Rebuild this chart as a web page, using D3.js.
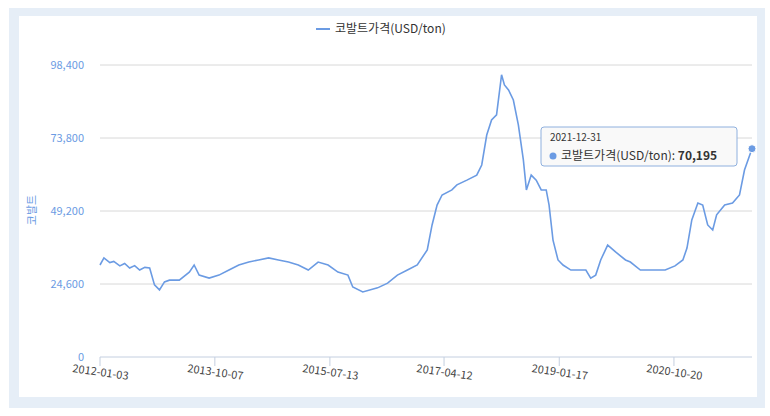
<!DOCTYPE html><html><head><meta charset="utf-8">
<script src="https://cdn.jsdelivr.net/npm/d3@7"></script>
<style>body{margin:0;background:#fff;font-family:"Noto Sans CJK KR","Noto Sans",sans-serif}</style></head><body>
<svg id="c" width="770" height="416"></svg>
<script>
const dates=["2012-01-03","2012-01-25","2012-02-27","2012-03-20","2012-04-23","2012-05-20","2012-06-17","2012-07-15","2012-08-12","2012-09-10","2012-10-07","2012-11-03","2012-12-01","2012-12-29","2013-01-26","2013-03-22","2013-05-17","2013-06-13","2013-07-11","2013-09-05","2013-10-30","2013-12-25","2014-02-18","2014-04-15","2014-06-09","2014-08-04","2014-09-28","2014-11-23","2015-01-17","2015-03-14","2015-05-08","2015-07-03","2015-08-27","2015-10-22","2015-11-18","2016-01-13","2016-04-05","2016-05-31","2016-07-25","2016-09-19","2016-11-13","2017-01-08","2017-02-04","2017-03-04","2017-04-01","2017-05-26","2017-06-23","2017-08-18","2017-10-12","2017-11-09","2017-12-07","2018-01-03","2018-01-31","2018-02-28","2018-03-16","2018-04-08","2018-05-05","2018-06-02","2018-06-30","2018-07-17","2018-08-13","2018-09-10","2018-10-08","2018-11-05","2018-11-21","2018-12-13","2019-01-10","2019-02-07","2019-03-23","2019-05-18","2019-06-15","2019-07-12","2019-08-09","2019-09-06","2019-10-15","2019-11-28","2020-01-23","2020-02-19","2020-04-15","2020-07-07","2020-09-01","2020-10-26","2020-12-09","2021-01-01","2021-01-28","2021-03-03","2021-03-30","2021-04-27","2021-05-25","2021-06-16","2021-07-31","2021-09-13","2021-10-22","2021-11-19","2021-12-31"];
const prices=[31000,33400,31800,32200,30700,31500,30000,30800,29300,30200,30000,24300,22600,25300,25900,25900,28600,31000,27600,26600,27600,29300,31000,32000,32700,33400,32700,32000,31000,29300,32000,31000,28600,27600,23600,21900,23300,24900,27600,29300,31000,36100,44500,51200,54600,56300,58000,59600,61300,64700,74800,79900,81600,95100,91700,90000,86600,78200,66400,56300,61300,59600,56300,56300,51200,39400,32700,31000,29300,29300,29300,26600,27600,32700,37700,35400,32700,32000,29300,29300,29300,30700,32700,36700,46200,51900,51200,44500,42800,47900,51200,51900,54600,63000,70195];
const yTicks=[0,24600,49200,73800,98400];
const xTickLabels=["2012-01-03","2013-10-07","2015-07-13","2017-04-12","2019-01-17","2020-10-20"];
const seriesName="코발트가격(USD/ton)";
const yTitle="코발트";

const svg=d3.select("#c");
svg.append("rect").attr("x",9).attr("y",8).attr("width",756).attr("height",400).attr("fill","#e6eef7");
svg.append("rect").attr("x",19).attr("y",16).attr("width",738).attr("height",381).attr("fill","#fff");
const p=d3.timeParse("%Y-%m-%d");
const data=dates.map((d,i)=>({d:p(d),v:prices[i]}));
const x=d3.scaleTime().domain([p(dates[0]),p(dates[dates.length-1])]).range([100,752]);
const y=d3.scaleLinear().domain([0,98400]).range([357,65]);
const g=svg.append("g");
yTicks.forEach(t=>{
 if(t>0)g.append("line").attr("x1",100).attr("x2",752).attr("y1",y(t)).attr("y2",y(t)).attr("stroke","#d8d8d8");
 g.append("text").attr("x",84).attr("y",y(t)+4).attr("text-anchor","end").attr("fill","#6b9be3").attr("font-size",11).text(d3.format(",")(t));
});
g.append("line").attr("x1",100).attr("x2",752).attr("y1",357).attr("y2",357).attr("stroke","#c4cfe0");
xTickLabels.forEach(s=>{
 const xx=x(p(s));
 g.append("line").attr("x1",xx).attr("x2",xx).attr("y1",357).attr("y2",366).attr("stroke","#c4cfe0");
 g.append("text").attr("transform",`translate(${xx},376) rotate(8)`).attr("text-anchor","middle").attr("fill","#444").attr("font-size",11).text(s);
});
g.append("text").attr("transform","translate(36,210) rotate(-90)").attr("text-anchor","middle").attr("fill","#6b9be3").attr("font-size",11).text(yTitle);
g.append("path").datum(data).attr("fill","none").attr("stroke","#6b9be3").attr("stroke-width",1.6)
 .attr("d",d3.line().x(d=>x(d.d)).y(d=>y(d.v)));
g.append("line").attr("x1",316).attr("x2",330).attr("y1",29).attr("y2",29).attr("stroke","#6b9be3").attr("stroke-width",2);
g.append("text").attr("x",335).attr("y",33).attr("fill","#333").attr("font-size",12).text(seriesName);
const last=data[data.length-1];
g.append("circle").attr("cx",x(last.d)).attr("cy",y(last.v)).attr("r",4).attr("fill","#6b9be3").attr("stroke","#fff");
const tt=g.append("g").attr("transform","translate(541,127)");
tt.append("rect").attr("width",196).attr("height",39).attr("rx",3).attr("fill","#f9f9f9").attr("stroke","#8fb0de");
tt.append("text").attr("x",9).attr("y",14).attr("font-size",10).attr("fill","#333").text("2021-12-31");
tt.append("circle").attr("cx",12).attr("cy",29).attr("r",3.5).attr("fill","#6b9be3");
const t2=tt.append("text").attr("x",20).attr("y",33).attr("font-size",12).attr("fill","#333");
t2.append("tspan").text(seriesName+": ");
t2.append("tspan").attr("font-weight","bold").text(d3.format(",")(last.v));
</script></body></html>
